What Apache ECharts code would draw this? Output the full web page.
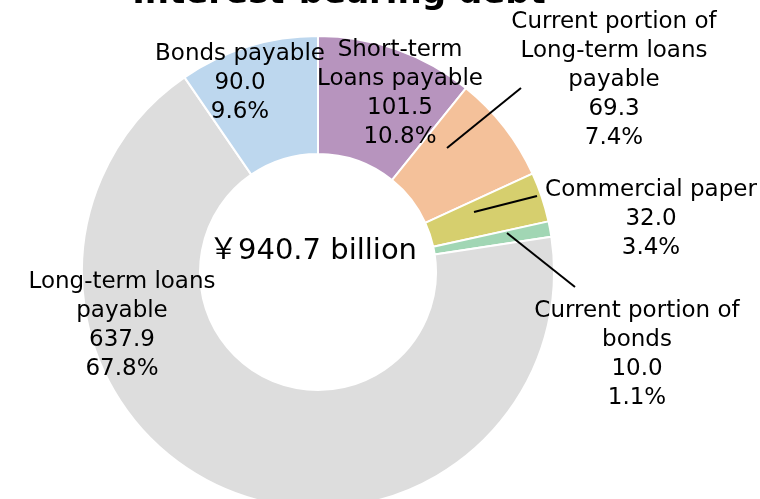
<!DOCTYPE html>
<html lang="en" style="height: 100%">
<head>
  <meta charset="utf-8">
</head>
<body style="height: 100%; margin: 0">
  <div id="container" style="height: 100%"></div>

  <script type="text/javascript" src="https://cdn.jsdelivr.net/npm/echarts@6/dist/echarts.min.js"></script>

  <script type="text/javascript">
    // debt breakdown, clockwise from 12 o'clock (¥ billion)
    var names = [
      'Short-term\nLoans payable',
      'Current portion of\nLong-term loans\npayable',
      'Commercial paper',
      'Current portion of\nbonds',
      'Long-term loans\npayable',
      'Bonds payable'
    ];
    var values = [101.5, 69.3, 32.0, 10.0, 637.9, 90.0];
    var shares = ['10.8%', '7.4%', '3.4%', '1.1%', '67.8%', '9.6%'];
    var colors = ['#b794be', '#f4c19a', '#d6cf6e', '#a1d6b4', '#dddddd', '#bdd7ee'];

    var totalText = '￥940.7 billion';
    var titleText = 'Interest-bearing debt';

    // label placement (x centre, top of text block)
    var labelPos = [
      { x: 400, y: 36 },
      { x: 614, y: 8 },
      { x: 651, y: 176 },
      { x: 637, y: 297 },
      { x: 122, y: 268 },
      { x: 240, y: 40 }
    ];
    // leader lines drawn over the ring (slice -> label)
    var leaders = [
      [[447, 148], [521, 88]],
      [[474, 212], [537, 196]],
      [[507, 233], [575, 287]]
    ];

    var dom = document.getElementById('container');
    var myChart = echarts.init(dom, null, { renderer: 'canvas' });

    var data = names.map(function (n, i) {
      return { name: n, value: values[i], itemStyle: { color: colors[i] } };
    });

    var graphics = [
      {
        type: 'text',
        x: 339,
        y: 11,
        style: {
          text: titleText,
          font: 'bold 34px "DejaVu Sans"',
          fill: '#000',
          align: 'center',
          verticalAlign: 'bottom'
        }
      },
      {
        type: 'text',
        x: 313,
        y: 251,
        style: {
          text: totalText,
          font: '29px "DejaVu Sans", "Noto Sans CJK JP"',
          fill: '#000',
          align: 'center',
          verticalAlign: 'middle'
        }
      }
    ];
    leaders.forEach(function (pts) {
      graphics.push({
        type: 'polyline',
        z: 100,
        shape: { points: pts },
        style: { stroke: '#000', lineWidth: 2, fill: null }
      });
    });

    var option = {
      animation: false,
      graphic: graphics,
      series: [{
        type: 'pie',
        center: [318, 272],
        radius: [118, 236],
        startAngle: 90,
        clockwise: true,
        avoidLabelOverlap: false,
        itemStyle: { borderColor: '#fff', borderWidth: 2 },
        label: {
          show: true,
          position: 'outside',
          color: '#000',
          fontFamily: 'DejaVu Sans',
          fontSize: 23,
          lineHeight: 29,
          align: 'center',
          formatter: function (p) {
            return p.name + '\n' + values[p.dataIndex].toFixed(1) + '\n' + shares[p.dataIndex];
          }
        },
        labelLine: { show: false },
        labelLayout: function (p) {
          var pos = labelPos[p.dataIndex];
          return { x: pos.x, y: pos.y, align: 'center', verticalAlign: 'top' };
        },
        data: data
      }]
    };

    myChart.setOption(option);
    window.addEventListener('resize', myChart.resize);
  </script>
</body>
</html>
